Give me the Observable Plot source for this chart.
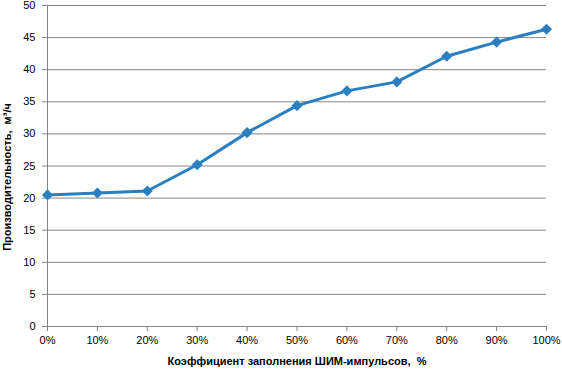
<!DOCTYPE html>
<html>
<head>
<meta charset="utf-8">
<script src="https://cdn.jsdelivr.net/npm/d3@7"></script>
<script src="https://cdn.jsdelivr.net/npm/@observablehq/plot@0.6"></script>
<style>
  body { margin: 0; background: #fff; }
</style>
</head>
<body>
<div id="chart"></div>
<script>
const duty = [0, 10, 20, 30, 40, 50, 60, 70, 80, 90, 100];
const flow = [20.5, 20.8, 21.1, 25.2, 30.2, 34.4, 36.7, 38.1, 42.1, 44.3, 46.3];
const yTicks = [0, 5, 10, 15, 20, 25, 30, 35, 40, 45, 50];
const xLabel = "Коэффициент заполнения ШИМ-импульсов,  %";
const yLabel = "Производительность,  м³/ч";

const data = duty.map((d, i) => ({ duty: d, flow: flow[i] }));
const gray = "#868686";
const blue = "#2a7fc1";

const chart = Plot.plot({
  width: 562,
  height: 370,
  marginLeft: 47,
  marginRight: 16,
  marginTop: 5,
  marginBottom: 44,
  style: { fontFamily: "Liberation Sans, Arial, sans-serif", fontSize: "11px", color: "#000", background: "#fff" },
  x: { domain: [0, 100] },
  y: { domain: [0, 50] },
  marks: [
    Plot.gridY(yTicks, { stroke: gray, strokeOpacity: 1 }),
    Plot.ruleX([0], { stroke: gray }),
    Plot.ruleY([0], { stroke: gray }),
    Plot.axisX(duty, { tickFormat: d => d + "%", tickSize: 5, stroke: gray, tickPadding: 5, label: null, fill: "#000" }),
    Plot.axisY(yTicks, { tickSize: 5, stroke: gray, tickPadding: 7, label: null, fill: "#000" }),
    Plot.line(data, { x: "duty", y: "flow", stroke: blue, strokeWidth: 3 }),
    Plot.dot(data, { x: "duty", y: "flow", symbol: "diamond2", fill: blue, r: 5 }),
    Plot.text([xLabel], { frameAnchor: "bottom", dy: 38, fontWeight: "bold", fontSize: 11, fill: "#000" }),
    Plot.text([yLabel], { frameAnchor: "left", textAnchor: "middle", dx: -40, dy: 11, rotate: -90, fontWeight: "bold", fontSize: 11, fill: "#000" })
  ]
});
document.getElementById("chart").appendChild(chart);
</script>
</body>
</html>
